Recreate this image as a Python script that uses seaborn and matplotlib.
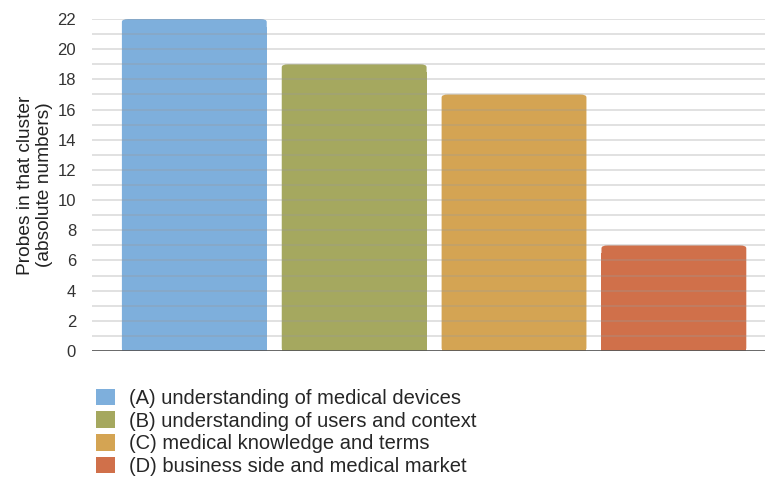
import matplotlib
matplotlib.use("Agg")
import matplotlib.pyplot as plt
import seaborn as sns
import pandas as pd
from matplotlib.patches import Patch, FancyBboxPatch

categories = ["(A) understanding of medical devices",
              "(B) understanding of users and context",
              "(C) medical knowledge and terms",
              "(D) business side and medical market"]
values = [22, 19, 17, 7]
colors = ["#7eafdc", "#a5a85f", "#d4a453", "#d0704a"]
ytick_labels = [0, 2, 4, 6, 8, 10, 12, 14, 16, 18, 20, 22]

sns.set_theme(style="white")
plt.rcParams['font.family'] = ['Liberation Sans', 'DejaVu Sans']

df = pd.DataFrame({"cat": categories, "val": values})

fig = plt.figure(figsize=(7.65, 4.8), dpi=100)
ax = fig.add_axes([92/765, 1-351/480, (765-92)/765, (351-19)/480])

sns.barplot(data=df, x="cat", y="val", hue="cat", palette=colors, width=0.906,
            legend=False, ax=ax, saturation=1)

# round the top corners slightly
for p in list(ax.patches):
    x, y, w, h = p.get_x(), p.get_y(), p.get_width(), p.get_height()
    fc = p.get_facecolor()
    p.set_visible(False)
    fb = FancyBboxPatch((x, y), w, h, boxstyle="round,pad=0,rounding_size=0.04",
                        mutation_aspect=4.8, facecolor=fc, edgecolor="none",
                        linewidth=0, zorder=1)
    ax.add_patch(fb)
    ax.add_patch(plt.Rectangle((x, y), w, h - 0.5, facecolor=fc, edgecolor="none",
                               linewidth=0, antialiased=False, zorder=1))

ax.set_ylim(0, 22)
ax.set_xlim(-0.64, 3.57)
ax.set_yticks(ytick_labels)
ax.set_yticklabels([str(t) for t in ytick_labels], fontsize=12, color="#333333")
for yv in range(0, 23):
    ax.axhline(yv, color="#9a9a9a", alpha=0.35, lw=1.2, zorder=3)
ax.axhline(0, color="#555555", lw=1.2, zorder=4)
ax.set_xticks([])
ax.set_xlabel("")
ax.set_ylabel("Probes in that cluster\n(absolute numbers)", fontsize=13.8, color="#222222",
              linespacing=1.2, labelpad=3)
ax.tick_params(axis="y", length=0, pad=11.5)
for s in ax.spines.values():
    s.set_visible(False)

handles = [Patch(facecolor=c, edgecolor="none") for c in colors]
fig.legend(handles, categories, loc="upper left", bbox_to_anchor=(96/765, 1-388.5/480),
           frameon=False, fontsize=14.5, handlelength=0.95, handleheight=0.9,
           handletextpad=0.7, labelspacing=0.17, borderaxespad=0, borderpad=0)

fig.savefig("out.png", dpi=100)
